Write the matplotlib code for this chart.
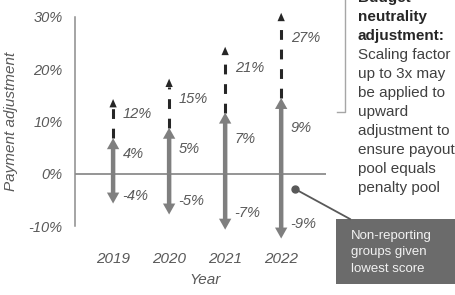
"""Payment adjustment range by year"""
import matplotlib
matplotlib.use("Agg")
import matplotlib.pyplot as plt
from matplotlib.patches import Rectangle

plt.rcParams['font.family'] = ['Liberation Sans', 'DejaVu Sans']

years = ['2019', '2020', '2021', '2022']
max_up = [4, 5, 7, 9]          # labelled upward adjustment
max_down = [-4, -5, -7, -9]    # labelled downward adjustment
max_scaled = [12, 15, 21, 27]  # labelled upward with scaling factor
# arrow tip heights as drawn (schematic)
up_tip = [6.8, 8.8, 11.7, 14.5]
down_tip = [-5.7, -7.8, -10.7, -12.4]
dash_tip = [14.3, 18.2, 24.3, 30.8]
y_ticks = [-10, 0, 10, 20, 30]

note_lines = ['Budget', 'neutrality', 'adjustment:', 'Scaling factor',
              'up to 3x may', 'be applied to', 'upward', 'adjustment to',
              'ensure payout', 'pool equals', 'penalty pool']
box_lines = ['Non-reporting', 'groups given', 'lowest score']

W, H = 456, 295
GREY = '#7f7f7f'
TXT = '#595959'


def fx(px):
    return px / W


def fy(py):
    return 1 - py / H


fig = plt.figure(figsize=(W / 100, H / 100), dpi=100)
ax = fig.add_axes([fx(75), fy(226), fx(326) - fx(75), fy(17) - fy(226)])
ax.set_xlim(-0.68, 3.80)
ax.set_ylim(-10, 30)

for s in ['top', 'right', 'bottom']:
    ax.spines[s].set_visible(False)
ax.spines['left'].set_color('#8c8c8c')
ax.spines['left'].set_linewidth(1.1)
ax.axhline(0, color='#8c8c8c', lw=1.3, zorder=1)

ax.set_yticks(y_ticks)
ax.set_yticklabels(['%d%%' % v for v in y_ticks], fontsize=10.5,
                   style='italic', color=TXT)
ax.set_xticks(range(len(years)))
ax.set_xticklabels(years, fontsize=11, style='italic', color=TXT)
ax.tick_params(axis='y', length=0, pad=9)
ax.tick_params(axis='x', length=0, pad=19)

ax.set_ylabel('Payment adjustment', fontsize=11, style='italic', color=TXT)
ax.yaxis.set_label_coords(-57 / 251, 0.5)
ax.set_xlabel('Year', fontsize=11, style='italic', color=TXT)
ax.xaxis.set_label_coords(0.518, -0.225)

for i in range(len(years)):
    # solid up / down arrows
    for tip in (up_tip[i], down_tip[i]):
        ax.arrow(i, 0, 0, tip, width=0.08, head_width=0.22, head_length=2.1,
                 length_includes_head=True, color=GREY, lw=0, zorder=3,
                 clip_on=False)
    # dashed extension with small dark head
    ax.plot([i, i], [up_tip[i], dash_tip[i] - 1.6], color='#262626', lw=2.2,
            dashes=(3.2, 3.2), solid_capstyle='butt', dash_capstyle='butt',
            zorder=2, clip_on=False)
    ax.arrow(i, dash_tip[i] - 1.6, 0, 1.6, width=0, head_width=0.13,
             head_length=1.6, length_includes_head=True, color='#262626',
             lw=0, zorder=3, clip_on=False)
    # labels
    ax.text(i + 0.17, max_up[i] - 0.3, '%d%%' % max_up[i], fontsize=10.5,
            style='italic', color=TXT, va='center', ha='left')
    ax.text(i + 0.17, max_down[i] * 1.06, '%d%%' % max_down[i], fontsize=10.5,
            style='italic', color=TXT, va='center', ha='left')
    ax.text(i + 0.17, max_scaled[i] * 0.96, '%d%%' % max_scaled[i],
            fontsize=10.5, style='italic', color=TXT, va='center', ha='left')

# bracket next to the note
fig.add_artist(plt.Line2D([fx(345), fx(345), fx(337)],
                          [fy(-2), fy(112), fy(112)],
                          color='#a6a6a6', lw=1.0))

for k, line in enumerate(note_lines):
    bold = k < 3
    fig.text(fx(358), fy(-2 + 19 * k), line, fontsize=11,
             fontweight='bold' if bold else 'normal',
             color='#262626' if bold else '#404040', va='center', ha='left')

# callout for non-reporting groups
fig.add_artist(Rectangle((fx(336), fy(284)), fx(130), fy(219) - fy(284),
                         transform=fig.transFigure, color='#6b6b6b', lw=0))
fig.add_artist(plt.Line2D([fx(295), fx(350)], [fy(189), fy(219)],
                          color='#595959', lw=1.3))
fig.add_artist(plt.Line2D([fx(295)], [fy(189)], marker='o', markersize=5,
                          color='#595959'))
for k, line in enumerate(box_lines):
    fig.text(fx(351), fy(236 + 16.5 * k), line, fontsize=9.5,
             color='#f2f2f2', va='center', ha='left')

fig.savefig('out.png', dpi=100)
